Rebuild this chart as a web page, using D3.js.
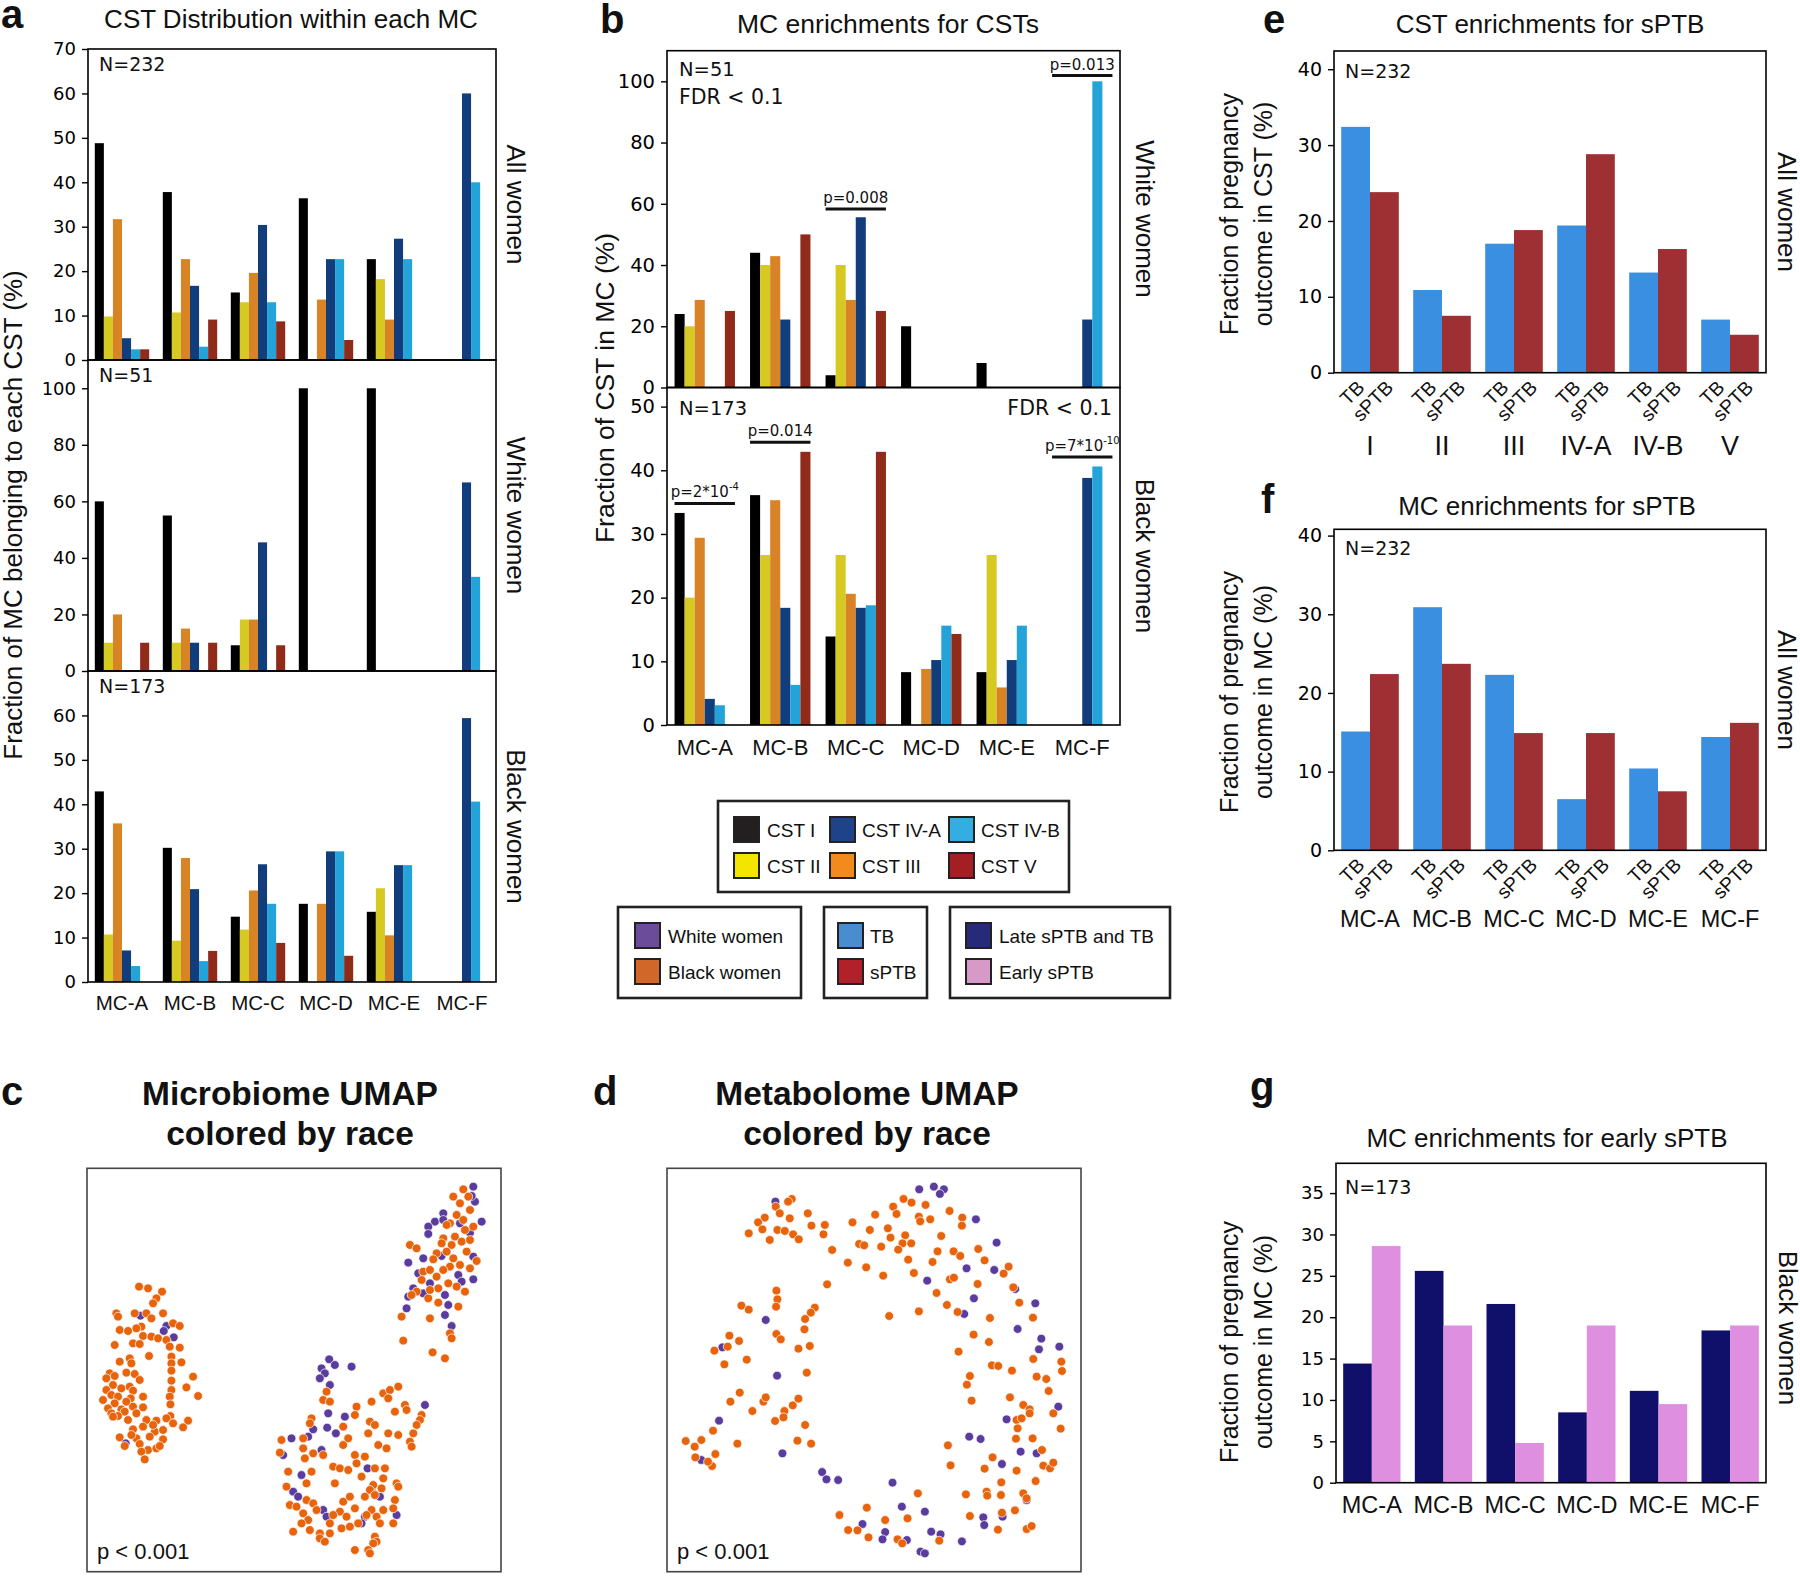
<!DOCTYPE html>
<html><head><meta charset="utf-8">
<script src="https://cdn.jsdelivr.net/npm/d3@7"></script>
<style>body{margin:0;background:#fff}</style>
</head><body>
<script>
// ---------------- DATA ----------------
const MC_LABELS = ["MC-A","MC-B","MC-C","MC-D","MC-E","MC-F"];
const CST_LABELS = ["CST I","CST II","CST III","CST IV-A","CST IV-B","CST V"];
const CST_GROUPS = ["I","II","III","IV-A","IV-B","V"];
const OUTCOME_LABELS = ["TB","sPTB"];
const EARLY_LABELS = ["Late sPTB and TB","Early sPTB"];
const RACE_LABELS = ["White women","Black women"];

// Panel a: % of MC belonging to each CST (rows = MC, cols = CST I, II, III, IV-A, IV-B, V)
const aAllWomen = [
  [48.8, 9.8, 31.7, 4.9, 2.4, 2.4],
  [37.8, 10.7, 22.7, 16.7, 3.0, 9.1],
  [15.2, 13.0, 19.6, 30.4, 13.0, 8.7],
  [36.4, 0, 13.6, 22.7, 22.7, 4.5],
  [22.7, 18.2, 9.1, 27.3, 22.7, 0],
  [0, 0, 0, 60.0, 40.0, 0]
];
const aWhiteWomen = [
  [60, 10, 20, 0, 0, 10],
  [55, 10, 15, 10, 0, 10],
  [9.1, 18.2, 18.2, 45.5, 0, 9.1],
  [100, 0, 0, 0, 0, 0],
  [100, 0, 0, 0, 0, 0],
  [0, 0, 0, 66.7, 33.3, 0]
];
const aBlackWomen = [
  [42.9, 10.7, 35.7, 7.1, 3.6, 0],
  [30.2, 9.3, 27.9, 20.9, 4.7, 7.0],
  [14.7, 11.8, 20.6, 26.5, 17.6, 8.8],
  [17.6, 0, 17.6, 29.4, 29.4, 5.9],
  [15.8, 21.1, 10.5, 26.3, 26.3, 0],
  [0, 0, 0, 59.4, 40.6, 0]
];
// Panel b: % of CST in MC
const bWhiteWomen = [
  [24, 20, 28.6, 0, 0, 25],
  [44, 40, 42.9, 22.2, 0, 50],
  [4, 40, 28.6, 55.6, 0, 25],
  [20, 0, 0, 0, 0, 0],
  [8, 0, 0, 0, 0, 0],
  [0, 0, 0, 22.2, 100, 0]
];
const bBlackWomen = [
  [33.3, 20, 29.4, 4.1, 3.1, 0],
  [36.1, 26.7, 35.3, 18.4, 6.3, 42.9],
  [13.9, 26.7, 20.6, 18.4, 18.8, 42.9],
  [8.3, 0, 8.8, 10.2, 15.6, 14.3],
  [8.3, 26.7, 5.9, 10.2, 15.6, 0],
  [0, 0, 0, 38.8, 40.6, 0]
];
// significance annotations [MC, level (%), text, superscript]
const bWhiteAnnot = [["MC-C", 58.3, "p=0.008", ""], ["MC-F", 101.9, "p=0.013", ""]];
const bBlackAnnot = [["MC-A", 34.8, "p=2*10", "-4"], ["MC-B", 44.4, "p=0.014", ""], ["MC-F", 42.1, "p=7*10", "-10"]];

// Panel e: CST enrichments for sPTB
const eTB   = [32.4, 10.9, 17.0, 19.4, 13.2, 7.0];
const eSPTB = [23.8, 7.5, 18.8, 28.8, 16.3, 5.0];
// Panel f: MC enrichments for sPTB
const fTB   = [15.1, 30.9, 22.3, 6.5, 10.4, 14.4];
const fSPTB = [22.4, 23.7, 14.9, 14.9, 7.5, 16.2];
// Panel g: MC enrichments for early sPTB
const gLate  = [14.4, 25.6, 21.6, 8.5, 11.1, 18.4];
const gEarly = [28.6, 19.0, 4.8, 19.0, 9.5, 19.0];

// Panel c: Microbiome UMAP (arbitrary units)
const cBlack = [
 [418,710],[445,715],[487,725],[470,745],[460,760],[350,790],[355,800],[405,790],[440,790],[490,790],[455,805],[425,830],[410,835],[360,840],[385,843],[520,820],[540,828],[430,858],[400,880],[420,882],[455,860],[475,865],[500,870],[345,885],[540,893],[510,890],[448,918],[390,925],[515,920],[360,935],[395,940],[545,937],[515,940],[330,970],[380,968],[405,972],[515,962],[320,985],[345,978],[420,990],[580,980],[560,1012],[515,992],[340,1005],[365,1015],[390,1010],[400,1022],[320,1020],[335,1035],[355,1040],[393,1045],[430,1040],[515,1020],[595,1038],[310,1050],[345,1060],[380,1055],[510,1040],[325,1075],[365,1078],[400,1070],[430,1072],[512,1063],[335,1090],[375,1085],[410,1090],[512,1098],[355,1098],[440,1110],[470,1112],[500,1105],[385,1110],[520,1120],[565,1112],[550,1132],[400,1138],[430,1130],[465,1145],[490,1140],[360,1162],[410,1165],[450,1160],[490,1168],[420,1182],[445,1200],[470,1195],[480,1188],[425,1205],[435,1228],[375,1188],[340,1100],[460,1125],[395,1155],
 [1390,418],[1360,440],[1405,440],[1380,460],[1410,480],[1370,495],[1350,520],[1390,510],[1420,530],[1395,540],[1340,525],[1365,560],[1330,565],[1385,575],[1410,570],[1355,585],[1325,580],[1230,585],[1250,595],[1310,610],[1340,605],[1300,628],[1360,625],[1400,605],[1430,633],[1380,645],[1410,655],[1350,650],[1330,660],[1270,665],[1290,660],[1310,680],[1265,690],[1345,700],[1370,710],[1395,725],[1315,715],[1250,725],[1235,735],[1285,745],[1315,758],[1375,770],[1290,805],[1205,800],[1350,850],[1355,865],[1210,872],[1298,907],[1335,925],[1290,720],
 [980,1025],[970,1050],[990,1055],[1070,1070],[1115,1055],[1150,1030],[1170,1020],[1195,1010],[1165,1045],[1215,1065],[1185,1085],[1220,1080],[1265,1095],[1260,1110],[1250,1125],[1240,1150],[1230,1175],[1235,1190],[935,1105],[930,1120],[1065,1095],[1110,1115],[1125,1125],[1030,1130],[1105,1150],[1165,1150],[1195,1155],[910,1165],[1045,1165],[1135,1185],[1160,1195],[845,1170],[910,1195],[940,1210],[840,1208],[915,1225],[970,1215],[1065,1215],[1095,1220],[1030,1185],[1070,1240],[1000,1250],[1020,1255],[1045,1260],[1125,1255],[1155,1255],[865,1265],[935,1265],[1085,1280],[1150,1285],[920,1300],[1005,1300],[1120,1305],[1190,1300],[860,1310],[1110,1320],[1145,1315],[1195,1310],[920,1350],[940,1360],[1030,1355],[1050,1340],[1095,1340],[1125,1335],[1185,1350],[870,1365],[890,1370],[950,1380],[1020,1385],[1065,1375],[1115,1380],[1150,1380],[1180,1375],[910,1390],[925,1410],[990,1420],[1040,1400],[1100,1395],[1130,1400],[1140,1420],[1180,1420],[880,1445],[930,1440],[960,1450],[1025,1435],[1050,1430],[1075,1420],[960,1465],[990,1450],[1125,1460],[1130,1475],[975,1475],[1120,1480],[1065,1500],[1105,1500],[1110,1510],[905,1420],[1000,1395]
];
const cWhite = [
 [422,797],[500,828],[492,843],[522,862],[378,1180],
 [1420,410],[1425,455],[1415,438],[1330,490],[1305,515],[1285,530],[1285,552],[1330,510],[1380,520],[1445,515],[1410,548],[1225,638],[1270,625],[1325,618],[1420,620],[1255,670],[1290,700],[1375,675],[1385,695],[1420,688],[1240,715],[1270,730],[1225,740],[1335,735],[1345,765],[1220,775],[1335,795],[1355,828],
 [988,928],[1005,945],[1055,950],[965,955],[975,970],[960,985],[990,1005],[985,1090],[1035,1100],[940,1138],[982,1133],[1008,1150],[875,1165],[925,1160],[850,1215],[965,1200],[1275,1065],[1103,1255],[905,1275],[880,1325],[895,1340],[1140,1340],[970,1380],[980,1400],[1095,1400],[1085,1420],[1190,1395],[1115,1320]
];
// Panel d: Metabolome UMAP (arbitrary units)
const dBlack = [
 [636,447],[625,455],[588,470],[600,490],[630,505],[555,503],[535,517],[548,538],[593,540],[615,543],[640,553],[657,568],[570,570],[507,550],[684,490],[695,527],[735,525],[731,553],[757,600],[818,517],[870,540],[886,494],[924,535],[940,470],[950,492],[971,447],[995,458],[1037,465],[1017,500],[1021,514],[1051,508],[1109,483],[1147,503],[1146,527],[976,556],[932,563],[968,580],[994,580],[838,582],[853,586],[904,590],[955,599],[1084,558],[1073,604],[1121,604],[1141,618],[1195,597],[1214,631],[1286,650],[1271,671],[804,638],[859,652],[910,677],[985,629],[1058,636],[1002,669],[1110,688],[1122,683],[1193,702],[1070,729],[1300,712],[1318,758],[1101,765],[1133,786],[1017,784],[928,798],[742,703],[590,722],[593,748],[589,770],[485,767],[507,779],[705,773],[693,788],[676,807],[674,838],[590,852],[603,868],[449,857],[478,873],[444,890],[404,902],[501,929],[434,943],[656,896],[690,888],[681,968],[1230,804],[1359,803],[1181,854],[1227,876],[1136,905],[1360,927],[1444,935],[1446,963],[1236,946],[1255,948],[1296,962],[1370,980],[1399,987],[1170,978],[1161,1004],[1406,1023],[1175,1052],[1290,1042],[1330,1065],[1349,1078],[1349,1090],[1420,1090],[1310,1110],[1325,1105],[1313,1135],[1442,1136],[1308,1166],[1358,1165],[1104,1186],[1386,1200],[1238,1222],[1112,1246],[1214,1256],[1310,1262],[1390,1247],[1410,1255],[1420,1238],[1264,1297],[1367,1293],[1158,1333],[1220,1325],[1222,1337],[1263,1335],[1330,1330],[1340,1345],[1014,1330],[1170,1398],[1266,1388],[1305,1381],[861,1373],[779,1395],[916,1410],[983,1405],[805,1440],[833,1441],[866,1462],[953,1468],[967,1480],[1078,1472],[1254,1439],[1340,1437],[1355,1428],[480,1028],[452,1055],[518,1083],[551,1055],[558,1042],[614,1083],[611,1102],[586,1113],[639,1066],[656,1046],[676,1125],[653,1172],[694,1181],[473,1181],[400,1142],[318,1173],[345,1190],[365,1170],[347,1222],[407,1212],[397,1248],[385,1235]
];
const dWhite = [
 [1018,418],[1062,410],[1092,418],[1080,432],[587,455],[1188,508],[1250,578],[1160,655],[1243,660],[1042,692],[1306,717],[1182,745],[1153,792],[1366,760],[1313,837],[1384,866],[1438,890],[1377,898],[558,810],[428,892],[592,977],[1435,1070],[1280,1108],[418,1112],[608,1210],[1168,1160],[1202,1167],[1322,1205],[1370,1210],[1266,1242],[365,1230],[727,1266],[740,1288],[775,1290],[938,1298],[966,1370],[1035,1385],[1210,1402],[1213,1425],[1268,1400],[848,1422],[916,1446],[1054,1445],[1082,1453],[908,1468],[981,1470],[1146,1474],[1022,1505],[1035,1510],[1340,1350]
];

// ---------------- STYLE ----------------
const FS = "'Liberation Sans', Arial, sans-serif";
const FT = "'DejaVu Sans', sans-serif";
const CST_COLORS = ["#000000","#d6c922","#d88325","#113e7b","#24a3d8","#912b19"];
const CST_LEGEND_COLORS = {"CST I":"#231f20","CST II":"#f3e500","CST III":"#f28a1e","CST IV-A":"#1f438b","CST IV-B":"#34ade2","CST V":"#a41f23"};
const OUT_COLORS = ["#3b8fe0","#9e3034"];
const EARLY_COLORS = ["#10106b","#df8fdf"];
const RACE_COLORS = {white:"#5a3c9e", black:"#e8640c"};

const svg = d3.select("body").append("svg").attr("width",1800).attr("height",1583)
  .style("background","#fff").style("display","block");

function label(x, y, s, size, o={}) {
  const t = svg.append("text").attr("x",x).attr("y",y).text(s)
    .attr("font-family",o.family||FS).attr("font-size",size)
    .attr("font-weight",o.weight||"normal").attr("text-anchor",o.anchor||"start")
    .attr("fill",o.fill||"#111");
  if (o.rotate) t.attr("transform",`rotate(${o.rotate},${x},${y})`);
  return t;
}

function barChart(fr, cats, matrix, yMax, ticks, colors, tickSize) {
  const g = svg.append("g");
  const nS = matrix[0].length;
  const x = d3.scaleBand().domain(cats).range([fr.x0, fr.x1]).paddingInner(0.2).paddingOuter(0.1);
  const xs = d3.scaleBand().domain(d3.range(nS)).range([0, x.bandwidth()]);
  const y = d3.scaleLinear().domain([0, yMax]).range([fr.y1, fr.y0]);
  const cells = [];
  cats.forEach((c,i) => matrix[i].forEach((v,j) => { if (v > 0) cells.push({c, j, v}); }));
  g.selectAll("rect.bar").data(cells).join("rect").attr("class","bar")
    .attr("x", d => x(d.c) + xs(d.j)).attr("width", xs.bandwidth())
    .attr("y", d => y(d.v)).attr("height", d => y(0) - y(d.v))
    .attr("fill", d => colors[d.j]);
  const ax = g.append("g").attr("transform",`translate(${fr.x0},0)`)
    .call(d3.axisLeft(y).tickValues(ticks).tickSize(6).tickPadding(6));
  ax.select(".domain").remove();
  ax.selectAll("line").attr("stroke","#000").attr("stroke-width",1.4);
  ax.selectAll("text").attr("font-family",FT).attr("font-size",tickSize).attr("fill","#000");
  g.append("rect").attr("x",fr.x0).attr("y",fr.y0).attr("width",fr.x1-fr.x0).attr("height",fr.y1-fr.y0)
    .attr("fill","none").attr("stroke","#000").attr("stroke-width",1.6);
  return {x, xs, y, g};
}

function xLabels(sc, cats, baseline, size) {
  cats.forEach(c => label(sc.x(c) + sc.x.bandwidth()/2, baseline, c, size, {anchor:"middle"}));
}

// ---------------- PANEL a ----------------
label(1, 28, "a", 40, {weight:"bold"});
label(291, 28, "CST Distribution within each MC", 26, {anchor:"middle"});
const aPlots = [
  {fr:{x0:88,x1:496,y0:49,y1:360}, data:aAllWomen, max:70, ticks:d3.range(0,71,10), n:"N=232", side:"All women"},
  {fr:{x0:88,x1:496,y0:360,y1:671}, data:aWhiteWomen, max:110, ticks:d3.range(0,101,20), n:"N=51", side:"White women"},
  {fr:{x0:88,x1:496,y0:671,y1:982}, data:aBlackWomen, max:70, ticks:d3.range(0,61,10), n:"N=173", side:"Black women"}
];
let aLast;
aPlots.forEach(p => {
  aLast = barChart(p.fr, MC_LABELS, p.data, p.max, p.ticks, CST_COLORS, 18);
  label(99, p.fr.y0 + 22, p.n, 19, {family:FT});
  label(507, (p.fr.y0 + p.fr.y1)/2, p.side, 26, {anchor:"middle", rotate:90});
});
xLabels(aLast, MC_LABELS, 1010, 20.5);
label(22, 515, "Fraction of MC belonging to each CST (%)", 26, {anchor:"middle", rotate:-90});

// ---------------- PANEL b ----------------
label(600, 33, "b", 40, {weight:"bold"});
label(888, 33, "MC enrichments for CSTs", 26.5, {anchor:"middle"});
const bTop = barChart({x0:667,x1:1120,y0:50.7,y1:387.5}, MC_LABELS, bWhiteWomen, 110, d3.range(0,101,20), CST_COLORS, 19.5);
const bBot = barChart({x0:667,x1:1120,y0:387.5,y1:725}, MC_LABELS, bBlackWomen, 53, d3.range(0,51,10), CST_COLORS, 19.5);
xLabels(bBot, MC_LABELS, 755, 22);
label(679, 76, "N=51", 19.5, {family:FT});
label(679, 104, "FDR < 0.1", 20.5, {family:FT});
label(679, 415, "N=173", 19.5, {family:FT});
label(1112, 415, "FDR < 0.1", 20.5, {family:FT, anchor:"end"});
label(1136, 219, "White women", 26, {anchor:"middle", rotate:90});
label(1136, 556, "Black women", 26, {anchor:"middle", rotate:90});
label(614, 388, "Fraction of CST in MC (%)", 26.5, {anchor:"middle", rotate:-90});
function annotate(sc, list) {
  list.forEach(([mc, lev, t, sup]) => {
    const x0 = sc.x(mc), x1 = x0 + sc.x.bandwidth(), yy = sc.y(lev);
    svg.append("line").attr("x1",x0).attr("x2",x1).attr("y1",yy).attr("y2",yy)
      .attr("stroke","#111").attr("stroke-width",3);
    const tx = label((x0+x1)/2, yy - 6, t, 15, {family:FT, anchor:"middle"});
    if (sup) tx.append("tspan").attr("font-size",10).attr("dy",-7).text(sup);
  });
}
annotate(bTop, bWhiteAnnot);
annotate(bBot, bBlackAnnot);

// ---------------- LEGENDS ----------------
function box(x0,y0,x1,y1){
  svg.append("rect").attr("x",x0).attr("y",y0).attr("width",x1-x0).attr("height",y1-y0)
    .attr("fill","none").attr("stroke","#222").attr("stroke-width",2.6);
}
function swatch(x,y,color,text,tx){
  svg.append("rect").attr("x",x).attr("y",y).attr("width",25).attr("height",25)
    .attr("fill",color).attr("stroke","#222").attr("stroke-width",2);
  label(tx, y + 19.5, text, 19);
}
box(718,801,1069,892);
const legOrder = ["CST I","CST IV-A","CST IV-B","CST II","CST III","CST V"];
const legColX = [[734,767],[830,862],[949,981]], legRowY = [817,853];
legOrder.forEach((k,i) => {
  const c = legColX[i%3], r = legRowY[Math.floor(i/3)];
  swatch(c[0], r, CST_LEGEND_COLORS[k], k, c[1]);
});
box(618,907,801,998);
swatch(635,923,"#6b4c9a",RACE_LABELS[0],668);
swatch(635,959,"#d2672a",RACE_LABELS[1],668);
box(824,907,927,998);
swatch(838,923,"#4a8cd0",OUTCOME_LABELS[0],870);
swatch(838,959,"#b2212a",OUTCOME_LABELS[1],870);
box(950,907,1170,998);
swatch(966,923,"#262a78",EARLY_LABELS[0],999);
swatch(966,959,"#d799c8",EARLY_LABELS[1],999);

// ---------------- PANEL e ----------------
function outcomeTicks(sc, cats, y0){
  cats.forEach(c => OUTCOME_LABELS.forEach((o,j) => {
    const px = sc.x(c) + sc.xs(j) + sc.xs.bandwidth()/2 + 10, py = y0 + 16;
    label(px, py, o, 19.5, {anchor:"end", rotate:-45});
  }));
}
function yLabel2(cy, l1, l2){
  label(1238, cy, l1, 25, {anchor:"middle", rotate:-90});
  label(1272, cy, l2, 25, {anchor:"middle", rotate:-90});
}
label(1263, 33, "e", 40, {weight:"bold"});
label(1550, 33, "CST enrichments for sPTB", 26, {anchor:"middle"});
const eMat = CST_GROUPS.map((c,i) => [eTB[i], eSPTB[i]]);
const eSc = barChart({x0:1334,x1:1766,y0:51,y1:372.7}, CST_GROUPS, eMat, 42.4, d3.range(0,41,10), OUT_COLORS, 19);
label(1345, 77.7, "N=232", 19, {family:FT});
outcomeTicks(eSc, CST_GROUPS, 372.7);
xLabels(eSc, CST_GROUPS, 455, 27);
yLabel2(214, "Fraction of pregnancy", "outcome in CST (%)");
label(1778, 212, "All women", 26, {anchor:"middle", rotate:90});

// ---------------- PANEL f ----------------
label(1261, 513, "f", 40, {weight:"bold"});
label(1547, 515, "MC enrichments for sPTB", 26, {anchor:"middle"});
const fMat = MC_LABELS.map((c,i) => [fTB[i], fSPTB[i]]);
const fSc = barChart({x0:1334,x1:1766,y0:529.3,y1:850.3}, MC_LABELS, fMat, 40.8, d3.range(0,41,10), OUT_COLORS, 19);
label(1345, 555, "N=232", 19, {family:FT});
outcomeTicks(fSc, MC_LABELS, 850.3);
xLabels(fSc, MC_LABELS, 927, 23.5);
yLabel2(692, "Fraction of pregnancy", "outcome in MC (%)");
label(1778, 690, "All women", 26, {anchor:"middle", rotate:90});

// ---------------- PANEL g ----------------
label(1250, 1100, "g", 40, {weight:"bold"});
label(1547, 1147, "MC enrichments for early sPTB", 26, {anchor:"middle"});
const gMat = MC_LABELS.map((c,i) => [gLate[i], gEarly[i]]);
const gSc = barChart({x0:1336,x1:1766,y0:1163.3,y1:1482.7}, MC_LABELS, gMat, 38.6, d3.range(0,36,5), EARLY_COLORS, 18);
label(1345, 1194, "N=173", 19, {family:FT});
xLabels(gSc, MC_LABELS, 1513, 23.5);
yLabel2(1342, "Fraction of pregnancy", "outcome in MC (%)");
label(1779, 1328, "Black women", 26, {anchor:"middle", rotate:90});

// ---------------- PANELS c, d (UMAP) ----------------
function umap(fr, black, white){
  const x = d3.scaleLinear().domain([262,1503]).range([fr.x0, fr.x1]);
  const y = d3.scaleLinear().domain([355,1565]).range([fr.y0, fr.y1]);
  const g = svg.append("g");
  g.selectAll("circle.w").data(white).join("circle").attr("class","w")
    .attr("cx",d=>x(d[0])).attr("cy",d=>y(d[1])).attr("r",4.4)
    .attr("fill",RACE_COLORS.white).attr("stroke","#fff").attr("stroke-width",0.7);
  g.selectAll("circle.b").data(black).join("circle").attr("class","b")
    .attr("cx",d=>x(d[0])).attr("cy",d=>y(d[1])).attr("r",4.4)
    .attr("fill",RACE_COLORS.black).attr("stroke","#fff").attr("stroke-width",0.7);
  g.append("rect").attr("x",fr.x0).attr("y",fr.y0).attr("width",fr.x1-fr.x0).attr("height",fr.y1-fr.y0)
    .attr("fill","none").attr("stroke","#444").attr("stroke-width",1.6);
  label(fr.x0 + 10, fr.y1 - 13, "p < 0.001", 22);
}
label(1, 1105, "c", 40, {weight:"bold"});
label(290, 1105, "Microbiome UMAP", 33.5, {weight:"bold", anchor:"middle"});
label(290, 1145, "colored by race", 33.5, {weight:"bold", anchor:"middle"});
umap({x0:87,x1:501,y0:1168.3,y1:1571.7}, cBlack, cWhite);
label(593, 1105, "d", 40, {weight:"bold"});
label(867, 1105, "Metabolome UMAP", 33.5, {weight:"bold", anchor:"middle"});
label(867, 1145, "colored by race", 33.5, {weight:"bold", anchor:"middle"});
umap({x0:667,x1:1081,y0:1168.3,y1:1571.7}, dBlack, dWhite);
</script>
</body></html>
